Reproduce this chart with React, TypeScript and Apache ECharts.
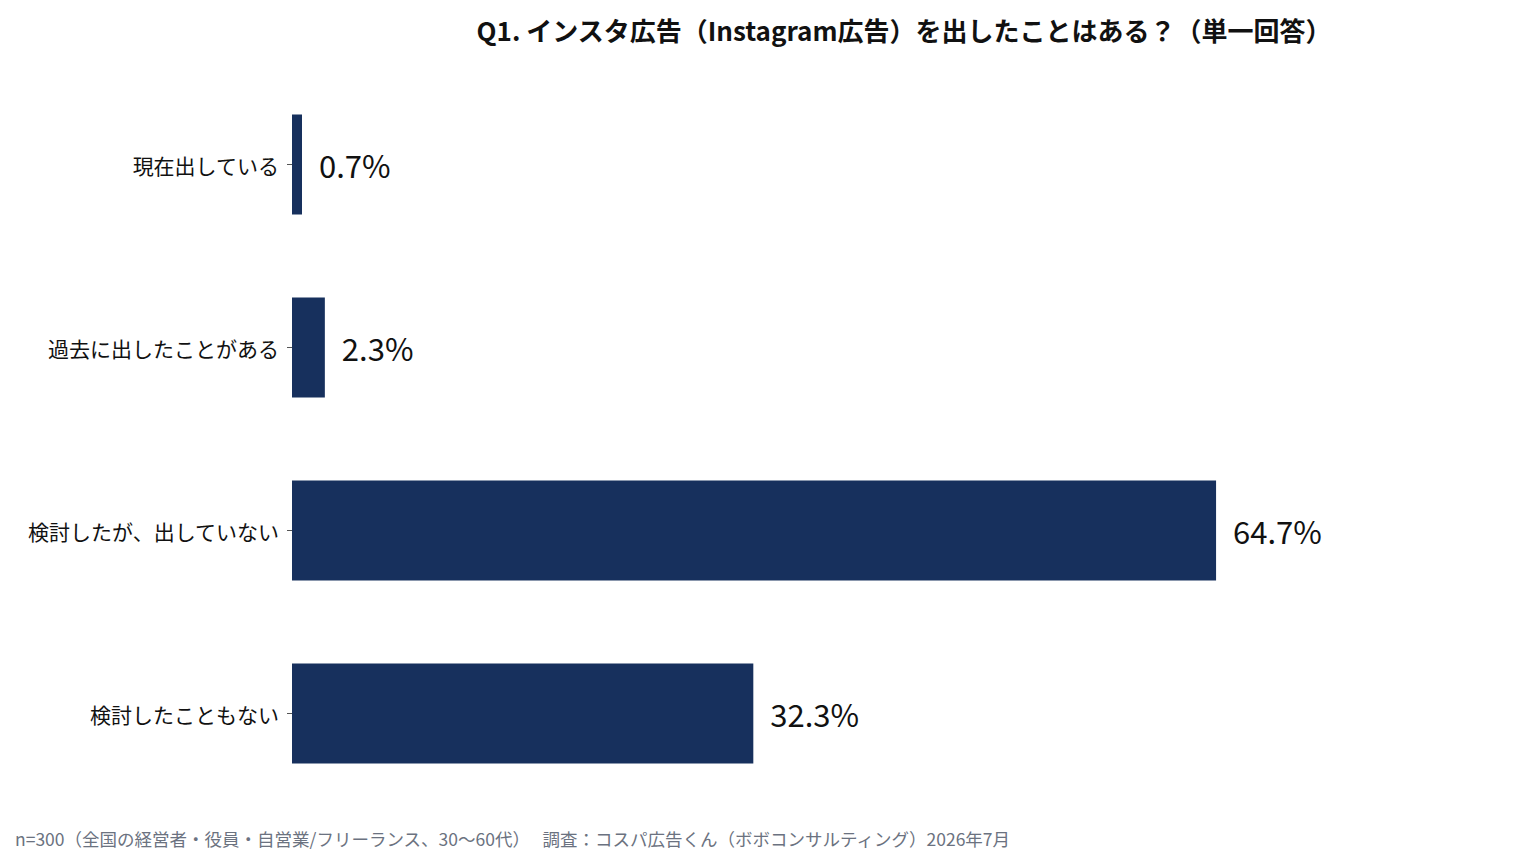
import * as echarts from 'echarts';
import { useEffect, useRef } from 'react';

const categories = ['現在出している', '過去に出したことがある', '検討したが、出していない', '検討したこともない'];
const shares = [0.7, 2.3, 64.7, 32.3];
const titleText = 'Q1. インスタ広告（Instagram広告）を出したことはある？（単一回答）';
const footerText = 'n=300（全国の経営者・役員・自営業/フリーランス、30〜60代）　 調査：コスパ広告くん（ボボコンサルティング）2026年7月';

const BAR_COLOR = '#17305d';
const FONT = '"Noto Sans CJK JP", "Noto Sans", sans-serif';

// the page keeps its 8px body margin, so positions below are 8px less than in the picture
export default function App() {
  const chartRef = useRef<HTMLDivElement>(null);

  useEffect(() => {
    if (!chartRef.current) return;
    const chart = echarts.init(chartRef.current, null, { renderer: 'svg' });

    chart.setOption({
      animation: false,
      textStyle: { fontFamily: FONT },
      title: {
        text: titleText,
        left: 891,
        top: 3,
        textAlign: 'center',
        textStyle: { fontSize: 26, fontWeight: 'bold', color: '#111', fontFamily: FONT }
      },
      graphic: [
        {
          type: 'text',
          x: 7,
          y: 830,
          style: {
            text: footerText,
            fill: '#6b7280',
            fontSize: 17.5,
            fontFamily: FONT,
            verticalAlign: 'middle'
          }
        }
      ],
      grid: { left: 284, top: 65, width: 1214, height: 732, containLabel: false },
      xAxis: { type: 'value', min: 0, max: 85, show: false },
      yAxis: {
        type: 'category',
        inverse: true,
        data: categories,
        axisLine: { show: false },
        axisTick: { show: true, alignWithLabel: true, length: 5, lineStyle: { color: '#555' } },
        axisLabel: { color: '#111', fontSize: 21, margin: 13, fontFamily: FONT },
        splitLine: { show: false }
      },
      series: [
        {
          type: 'bar',
          data: shares,
          barWidth: 100,
          itemStyle: { color: BAR_COLOR },
          label: {
            show: true,
            position: 'right',
            distance: 17,
            formatter: (p: any) => `${p.value}%`,
            fontSize: 31,
            color: '#111',
            fontFamily: FONT
          }
        }
      ]
    });

    return () => chart.dispose();
  }, []);

  return <div ref={chartRef} style={{ width: 1520, height: 842 }} />;
}
